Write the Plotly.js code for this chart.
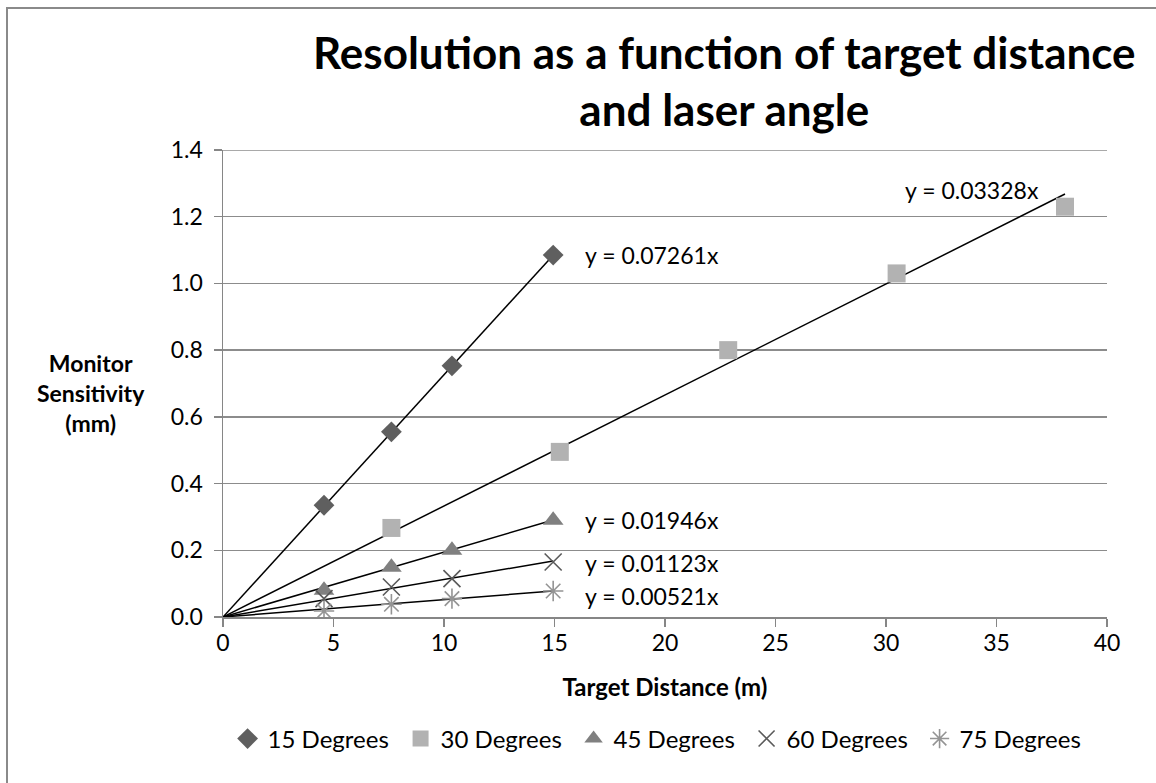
<!DOCTYPE html>
<html>
<head>
<meta charset="utf-8">
<script src="https://cdn.plot.ly/plotly-3.0.1.min.js"></script>
<style>
html,body{margin:0;padding:0;background:#fff;}
#wrap{position:relative;width:1156px;height:783px;}
#chart{width:1156px;height:783px;}
#frame{position:absolute;left:6px;top:7px;width:1150px;height:776px;border-left:2px solid #8a8a8a;border-top:2px solid #8a8a8a;pointer-events:none;}
</style>
</head>
<body>
<div id="wrap"><div id="chart"></div><div id="frame"></div></div>
<script>
// Data
const seriesNames = ["15 Degrees", "30 Degrees", "45 Degrees", "60 Degrees", "75 Degrees"];
const x15 = [4.57, 7.62, 10.36, 14.94];
const y15 = [0.335, 0.555, 0.753, 1.085];
const x30 = [7.62, 15.24, 22.86, 30.48, 38.10];
const y30 = [0.267, 0.495, 0.800, 1.030, 1.230];
const x45 = [4.57, 7.62, 10.36, 14.94];
const y45 = [0.080, 0.149, 0.200, 0.290];
const x60 = [4.57, 7.62, 10.36, 14.94];
const y60 = [0.055, 0.090, 0.115, 0.165];
const x75 = [4.57, 7.62, 10.36, 14.94];
const y75 = [0.018, 0.038, 0.055, 0.078];
const slopes = [0.07261, 0.03328, 0.01946, 0.01123, 0.00521];
const slopeLabels = ["y = 0.07261x", "y = 0.03328x", "y = 0.01946x", "y = 0.01123x", "y = 0.00521x"];

const xs = [x15, x30, x45, x60, x75];
const ys = [y15, y30, y45, y60, y75];
const markers = [
  {symbol: "diamond", size: 16, color: "#5f5f5f"},
  {symbol: "square", size: 18, color: "#b2b2b2"},
  {symbol: "triangle-up", size: 18, color: "#808080"},
  {symbol: "x-thin-open", size: 17, color: "#5a5a5a", line: {width: 1.6, color: "#5a5a5a"}},
  {symbol: "asterisk-open", size: 17, color: "#949494", line: {width: 1.6, color: "#949494"}}
];

const font = "Lato, 'Open Sans', sans-serif";
const traces = [];
for (let i = 0; i < 5; i++) {
  const xmax = Math.max(...xs[i]);
  traces.push({
    x: [0, xmax], y: [0, slopes[i] * xmax], type: "scatter", mode: "lines",
    line: {color: "#000", width: 1.5}, showlegend: false, hoverinfo: "skip"
  });
}
for (let i = 0; i < 5; i++) {
  traces.push({
    x: xs[i], y: ys[i], type: "scatter", mode: "markers", name: seriesNames[i],
    marker: markers[i]
  });
}

const labelPos = [
  {x: 16.3, y: 1.085, xanchor: "left"},
  {x: 37.0, y: 1.28, xanchor: "right"},
  {x: 16.3, y: 0.290, xanchor: "left"},
  {x: 16.3, y: 0.162, xanchor: "left"},
  {x: 16.3, y: 0.062, xanchor: "left"}
];
const annotations = slopeLabels.map((t, i) => ({
  text: t, x: labelPos[i].x, y: labelPos[i].y, xref: "x", yref: "y",
  xanchor: labelPos[i].xanchor, yanchor: "middle", showarrow: false,
  font: {family: font, size: 23, color: "#000"}
}));
annotations.push({
  text: "<b>Monitor<br>Sensitivity<br>(mm)</b>", xref: "paper", yref: "paper",
  x: -0.149, y: 0.48, xanchor: "center", yanchor: "middle", showarrow: false,
  align: "center", font: {family: font, size: 23, color: "#000"}
});
annotations.push({
  text: "<b>Resolution as a function of target distance<br>and laser angle</b>",
  xref: "paper", yref: "paper", x: 0.567, y: 1.148, xanchor: "center", yanchor: "middle",
  showarrow: false, align: "center", font: {family: font, size: 44, color: "#000"}
});

const layout = {
  width: 1156, height: 783,
  paper_bgcolor: "#fff", plot_bgcolor: "#fff",
  margin: {l: 223, r: 49, t: 150, b: 166, pad: 0, autoexpand: false},
  xaxis: {
    range: [0, 40], dtick: 5, tick0: 0, showgrid: false, zeroline: false,
    showline: true, linecolor: "#868686", linewidth: 1.5,
    ticks: "outside", ticklen: 8, tickcolor: "#868686", tickwidth: 1.5,
    ticklabelstandoff: -3,
    tickfont: {family: font, size: 23, color: "#000"},
    title: {text: "<b>Target Distance (m)</b>", font: {family: font, size: 24, color: "#000"}, standoff: 24}
  },
  yaxis: {
    range: [0, 1.4], dtick: 0.2, tick0: 0, tickformat: ".1f",
    showgrid: true, gridcolor: "#8c8c8c", gridwidth: 1.5, zeroline: false,
    showline: true, linecolor: "#868686", linewidth: 1.5,
    ticks: "outside", ticklen: 8, tickcolor: "#868686", tickwidth: 1.5,
    ticklabelstandoff: 6,
    tickfont: {family: font, size: 23, color: "#000"}
  },
  shapes: [{
    type: "line", xref: "paper", yref: "y", x0: 0, x1: 1, y0: 1.4, y1: 1.4,
    line: {color: "#8c8c8c", width: 1.5}
  }],
  legend: {
    orientation: "h", xref: "container", yref: "container",
    x: 0.571, xanchor: "center", y: 0.085, yanchor: "top",
    font: {family: font, size: 24, color: "#000"}, itemwidth: 30, tracegroupgap: 0,
    entrywidth: 128, entrywidthmode: "pixels"
  },
  annotations: annotations,
  showlegend: true
};

Plotly.newPlot("chart", traces, layout, {displayModeBar: false, staticPlot: true});
</script>
</body>
</html>
